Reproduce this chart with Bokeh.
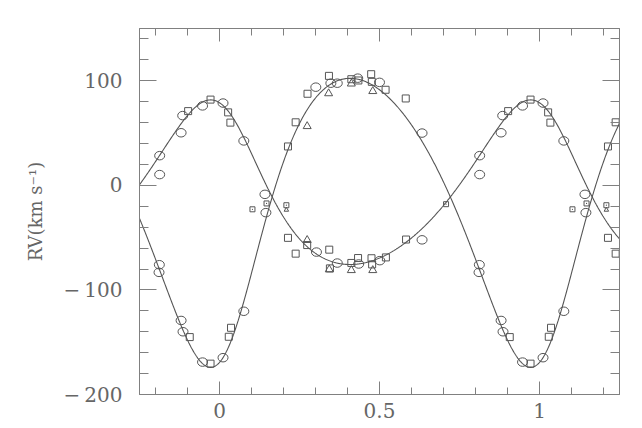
import numpy as np
from bokeh.plotting import figure
from bokeh.models import FixedTicker, LinearAxis, Range1d, CustomJSTickFormatter
from bokeh.embed import file_html
from bokeh.resources import INLINE

# ---- phase-folded observations (phase in [0,1)) ----
# primary star (smaller amplitude curve)
circ_b_phase = [0.011, 0.076, 0.142, 0.303, 0.368, 0.435, 0.501, 0.633, 0.813, 0.813, 0.880, 0.885, 0.947]
circ_b_rv    = [78.7, 42.5, -8.6, -63.8, -74.3, -75.2, -72.0, -52.1, 28.4, 10.3, 50.3, 66.7, 76.0]
sq_b_phase   = [0.027, 0.034, 0.214, 0.238, 0.274, 0.343, 0.345, 0.412, 0.433, 0.475, 0.477, 0.520, 0.583, 0.902, 0.972]
sq_b_rv      = [69.8, 60.0, -50.2, -65.3, -57.1, -61.5, -79.4, -74.2, -69.5, -69.7, -75.6, -68.9, -51.8, 71.0, 82.0]
tri_b_phase  = [0.274, 0.343, 0.412, 0.479]
tri_b_rv     = [-52.4, -80.5, -81.2, -81.2]
# secondary star (larger amplitude curve)
circ_a_phase = [0.011, 0.076, 0.145, 0.301, 0.348, 0.368, 0.432, 0.500, 0.633, 0.812, 0.811, 0.880, 0.886, 0.947]
circ_a_rv    = [-164.8, -120.4, -26.1, 93.9, 97.7, 97.7, 102.5, 98.5, 50.0, -75.9, -83.2, -129.2, -140.0, -169.0]
sq_a_phase   = [0.029, 0.036, 0.214, 0.238, 0.275, 0.342, 0.412, 0.434, 0.474, 0.476, 0.519, 0.582, 0.907, 0.972]
sq_a_rv      = [-144.8, -136.2, 37.2, 60.3, 87.6, 104.7, 101.5, 100.3, 106.3, 99.0, 91.4, 83.1, -145.1, -170.5]
tri_a_phase  = [0.274, 0.341, 0.412, 0.479]
tri_a_rv     = [56.5, 87.9, 97.2, 90.0]
# blended measurements near systemic velocity
small_sq_phase  = [0.103, 0.147, 0.209, 0.708]
small_sq_rv     = [-22.9, -17.3, -19.0, -18.0]
small_tri_phase = [0.209]
small_tri_rv    = [-23.5]

# orbital solution drawn as the two curves
ECC = 0.205        # eccentricity
OMEGA_DEG = 29.0   # longitude of periastron
T0_PHASE = 0.025   # phase of periastron
GAMMA = -11.1      # systemic velocity, km/s
K_PRIM = 78.7      # semi-amplitude, primary
K_SEC = 138.2      # semi-amplitude, secondary

x_major = [0, 0.5, 1]
x_minor = [-0.2, -0.1, 0.1, 0.2, 0.3, 0.4, 0.6, 0.7, 0.8, 0.9, 1.1, 1.2]
y_major = [-200, -100, 0, 100]
y_minor = [-180, -160, -140, -120, -80, -60, -40, -20, 20, 40, 60, 80, 120, 140]

XMIN, XMAX = -0.25, 1.25
YMIN, YMAX = -200, 150


def unfold(ph, rv):
    xs, ys = [], []
    for a, b in zip(ph, rv):
        for s in (-1, 0, 1):
            if XMIN <= a + s <= XMAX:
                xs.append(a + s)
                ys.append(b)
    return xs, ys


def true_anomaly(ph, e, t0):
    M = 2 * np.pi * (ph - t0)
    E = M.copy()
    for _ in range(40):
        E = E - (E - e * np.sin(E) - M) / (1 - e * np.cos(E))
    return 2 * np.arctan2(np.sqrt(1 + e) * np.sin(E / 2), np.sqrt(1 - e) * np.cos(E / 2))


om = np.radians(OMEGA_DEG)
ph_curve = np.linspace(XMIN, XMAX, 751)
nu_c = true_anomaly(ph_curve, ECC, T0_PHASE)
f_c = np.cos(nu_c + om) + ECC * np.cos(om)
curve_b = GAMMA + K_PRIM * f_c
curve_a = GAMMA - K_SEC * f_c

GRAY = "#555555"
TXT = "#666666"
AX = "#808080"
FONT = "DejaVu Serif"

p = figure(width=634, height=424, output_backend="svg", toolbar_location=None,
           x_range=Range1d(XMIN, XMAX), y_range=Range1d(YMIN, YMAX),
           min_border_left=139, min_border_right=15, min_border_top=28, min_border_bottom=30,
           background_fill_color="white", border_fill_color="white")
p.xgrid.visible = False
p.ygrid.visible = False
p.outline_line_color = AX

p.line(ph_curve, curve_b, line_color=GRAY, line_width=1.1)
p.line(ph_curve, curve_a, line_color=GRAY, line_width=1.1)

cx, cy = unfold(circ_b_phase + circ_a_phase, circ_b_rv + circ_a_rv)
p.ellipse(cx, cy, width=10, height=8.5, width_units="screen", height_units="screen",
          fill_color=None, line_color=GRAY, line_width=1)
sx, sy = unfold(sq_b_phase + sq_a_phase, sq_b_rv + sq_a_rv)
p.scatter(sx, sy, marker="square", size=7, fill_color=None, line_color=GRAY, line_width=1)
tx, ty = unfold(tri_b_phase + tri_a_phase, tri_b_rv + tri_a_rv)
p.scatter(tx, ty, marker="triangle", size=8, fill_color=None, line_color=GRAY, line_width=1)
ssx, ssy = unfold(small_sq_phase, small_sq_rv)
p.scatter(ssx, ssy, marker="square_dot", size=5, fill_color=None, line_color=GRAY, line_width=1)
stx, sty = unfold(small_tri_phase, small_tri_rv)
p.scatter(stx, sty, marker="triangle", size=4.5, fill_color=None, line_color=GRAY, line_width=1)

fmt = CustomJSTickFormatter(code="return tick < 0 ? '\\u2212\\u2009' + Math.abs(tick) : String(tick);")
blank = CustomJSTickFormatter(code="return '';")

xt = FixedTicker(ticks=x_major, minor_ticks=x_minor)
yt = FixedTicker(ticks=y_major, minor_ticks=y_minor)

bottom = p.xaxis[0]
left = p.yaxis[0]
bottom.ticker = xt
left.ticker = yt
bottom.formatter = fmt
left.formatter = fmt

top = LinearAxis(ticker=xt, formatter=blank)
right = LinearAxis(ticker=yt, formatter=blank)
p.add_layout(top, "above")
p.add_layout(right, "right")

for ax in [bottom, top]:
    ax.major_tick_in = 13
    ax.minor_tick_in = 7
for ax in [left, right]:
    ax.major_tick_in = 17
    ax.minor_tick_in = 9
for ax in [bottom, left, top, right]:
    ax.major_tick_out = 0
    ax.minor_tick_out = 0
    ax.axis_line_color = AX
    ax.major_tick_line_color = AX
    ax.minor_tick_line_color = AX
    ax.major_label_text_color = TXT
    ax.major_label_text_font = FONT
for ax in [top, right]:
    ax.major_label_text_font_size = "0px"
    ax.major_label_standoff = 0

bottom.major_label_text_font_size = "20px"
bottom.major_label_standoff = 8
left.major_label_text_font_size = "20px"
left.major_label_standoff = 17
left.axis_label = "RV(km s\u207b\u00b9)"
left.axis_label_text_font = FONT
left.axis_label_text_font_size = "18px"
left.axis_label_text_font_style = "normal"
left.axis_label_text_color = TXT
left.axis_label_standoff = 15

open("out.html", "w").write(file_html(p, INLINE))
